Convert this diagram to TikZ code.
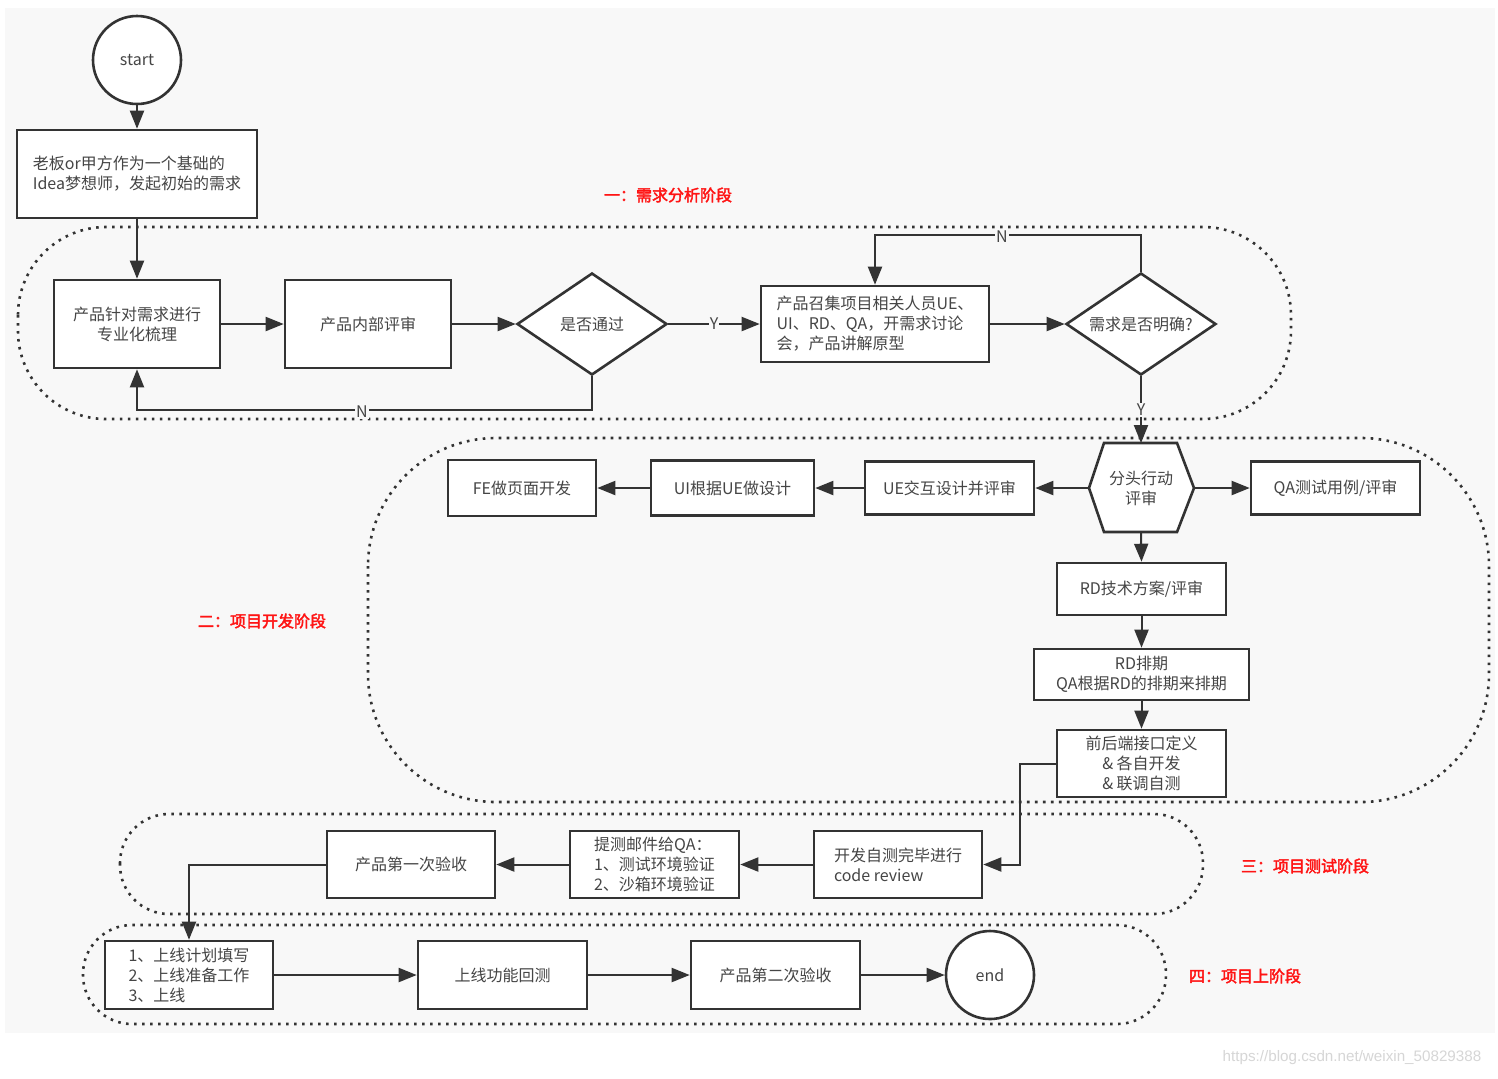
\documentclass[tikz,border=0pt]{standalone}
\usepackage{fontspec}
\setmainfont{Noto Sans CJK SC}
\newfontfamily\labfont{Noto Sans CJK SC}[FakeBold=2.5]
\newfontfamily\wmfont{Liberation Sans}
\usetikzlibrary{shapes.geometric,arrows.meta,calc}
\definecolor{bggrey}{HTML}{F8F8F8}
\definecolor{ink}{HTML}{333333}
\definecolor{txt}{HTML}{454545}
\definecolor{phred}{HTML}{FF1414}
\definecolor{wmgrey}{HTML}{D6D6D6}
\begin{document}
\begin{tikzpicture}[x=0.5pt,y=-0.5pt,
  box/.style={draw=ink, line width=1.3pt, fill=white, text=txt, font=\fontsize{8}{10}\selectfont, inner sep=0pt, align=center},
  lbox/.style={box, align=left},
  dia/.style={diamond, draw=ink, line width=1.3pt, fill=white, text=txt, font=\fontsize{8}{10}\selectfont, inner sep=0pt, shape aspect=1.47, minimum width=75pt, minimum height=51pt},
  circ/.style={circle, draw=ink, line width=1.3pt, fill=white, minimum size=44pt, inner sep=0pt, text=txt, font=\fontsize{8}{10}\selectfont},
  conn/.style={draw=ink, line width=1pt, -{Triangle[length=9pt,width=7pt]}},
  phase/.style={draw=ink, line width=1.3pt, dash pattern=on 1.3pt off 2.7pt},
  yn/.style={fill=bggrey, text=txt, font=\fontsize{8}{8}\selectfont, inner sep=0.6pt},
  plab/.style={text=phred, font=\labfont\fontsize{8}{10}\selectfont}
]
\useasboundingbox (0,0) rectangle (1498,1078);
\fill[white] (0,0) rectangle (1498,1078);
\fill[bggrey] (5,8) rectangle (1495,1033);

% phase regions
\draw[phase, rounded corners=44pt] (18,227) rectangle (1291,419);
\draw[phase, rounded corners=64pt] (368,438) rectangle (1489,802);
\draw[phase, rounded corners=24.5pt] (120,814) rectangle (1203,914);
\draw[phase, rounded corners=24.5pt] (83,925) rectangle (1166,1024);

% phase labels
\node[plab] (l1) at (668,195) {一：需求分析阶段};
\node[plab] (l2) at (262,621) {二：项目开发阶段};
\node[plab] (l3) at (1305,866) {三：项目测试阶段};
\node[plab] (l4) at (1245,976) {四：项目上阶段};

% nodes
\node[circ] (start) at (137,60) {start};
\node[lbox, minimum width=120pt, minimum height=44pt] (boss) at (137,174) {老板or甲方作为一个基础的\\Idea梦想师，发起初始的需求};
\node[box, minimum width=83pt, minimum height=44pt] (pro) at (137,324) {产品针对需求进行\\专业化梳理};
\node[box, minimum width=83pt, minimum height=44pt] (rev) at (368,324) {产品内部评审};
\node[dia] (pass) at (592,324) {是否通过};
\node[lbox, minimum width=114pt, minimum height=38pt] (meet) at (875,324) {产品召集项目相关人员UE、\\UI、RD、QA，开需求讨论\\会，产品讲解原型};
\node[dia] (clear) at (1141,324) {需求是否明确?};

% hexagon
\coordinate (hc) at (1141,488);
\fill[white, draw=ink, line width=1.3pt] ($(hc)+(-52,0)$) -- ($(hc)+(-37,-45)$) -- ($(hc)+(36,-45)$) -- ($(hc)+(53,0)$) -- ($(hc)+(36,44)$) -- ($(hc)+(-37,44)$) -- cycle;
\node[text=txt, font=\fontsize{8}{10}\selectfont, align=center, minimum width=52.5pt, minimum height=44.5pt, inner sep=0pt] (hex) at (hc) {分头行动\\评审};

\node[box, minimum width=84.5pt, minimum height=26.5pt] (qa) at (1335.5,488) {QA测试用例/评审};
\node[box, minimum width=84.5pt, minimum height=26.5pt] (ue) at (949.5,488) {UE交互设计并评审};
\node[box, minimum width=81.5pt, minimum height=27.5pt] (ui) at (732.5,488) {UI根据UE做设计};
\node[box, minimum width=74pt, minimum height=28pt] (fe) at (522,488) {FE做页面开发};
\node[box, minimum width=84.5pt, minimum height=26pt] (rd) at (1141.5,589) {RD技术方案/评审};
\node[box, minimum width=107.5pt, minimum height=25.5pt] (rdp) at (1141.5,674.5) {RD排期\\QA根据RD的排期来排期};
\node[box, minimum width=84.5pt, minimum height=33.5pt] (fb) at (1141.5,763.5) {前后端接口定义\\\& 各自开发\\\& 联调自测};

\node[lbox, minimum width=84pt, minimum height=33.5pt] (dev) at (898,864.5) {开发自测完毕进行\\code review};
\node[lbox, minimum width=84.5pt, minimum height=33.5pt] (tice) at (654.5,864.5) {提测邮件给QA：\\1、测试环境验证\\2、沙箱环境验证};
\node[box, minimum width=84pt, minimum height=33.5pt] (acc1) at (411,864.5) {产品第一次验收};

\node[lbox, minimum width=84pt, minimum height=34pt] (sx) at (189,975) {1、上线计划填写\\2、上线准备工作\\3、上线};
\node[box, minimum width=84.5pt, minimum height=34pt] (hcs) at (502.5,975) {上线功能回测};
\node[box, minimum width=84.5pt, minimum height=34pt] (acc2) at (775.5,975) {产品第二次验收};
\node[circ] (end) at (990,975) {end};

% connectors
\draw[conn] (start) -- (boss);
\draw[conn] (boss) -- (pro);
\draw[conn] (pro) -- (rev);
\draw[conn] (rev) -- (pass);
\draw[conn] (pass) -- (meet);
\node[yn] (y1) at (714,324) {Y};
\coordinate (n1c) at (137,410);
\draw[conn] (pass.south) |- (n1c) -- (pro.south);
\node[yn] (n1) at (362,412) {N};
\draw[conn] (meet) -- (clear);
\coordinate (n2c) at (875,235);
\draw[conn] (clear.north) |- (n2c) -- (meet.north);
\node[yn] (n2) at (1002,237) {N};
\draw[conn] (clear.south) -- (hex.north);
\node[yn] (y2) at (1141,410) {Y};

\draw[conn] (hex.east) -- (qa.west);
\draw[conn] (hex.west) -- (ue.east);
\draw[conn] (ue) -- (ui);
\draw[conn] (ui) -- (fe);
\draw[conn] (hex.south) -- (rd.north);
\draw[conn] (rd) -- (rdp);
\draw[conn] (rdp) -- (fb);
\coordinate (c3) at (1020,763.5);
\draw[conn] (fb.west) -- (c3) |- (dev.east);
\draw[conn] (dev) -- (tice);
\draw[conn] (tice) -- (acc1);
\draw[conn] (acc1.west) -| (sx.north);
\draw[conn] (sx) -- (hcs);
\draw[conn] (hcs) -- (acc2);
\draw[conn] (acc2) -- (end);

% watermark
\node[text=wmgrey, font=\wmfont\fontsize{7.6}{8}\selectfont] (wm) at (1352,1058) {https://blog.csdn.net/weixin\_50829388};
\end{tikzpicture}
\end{document}
